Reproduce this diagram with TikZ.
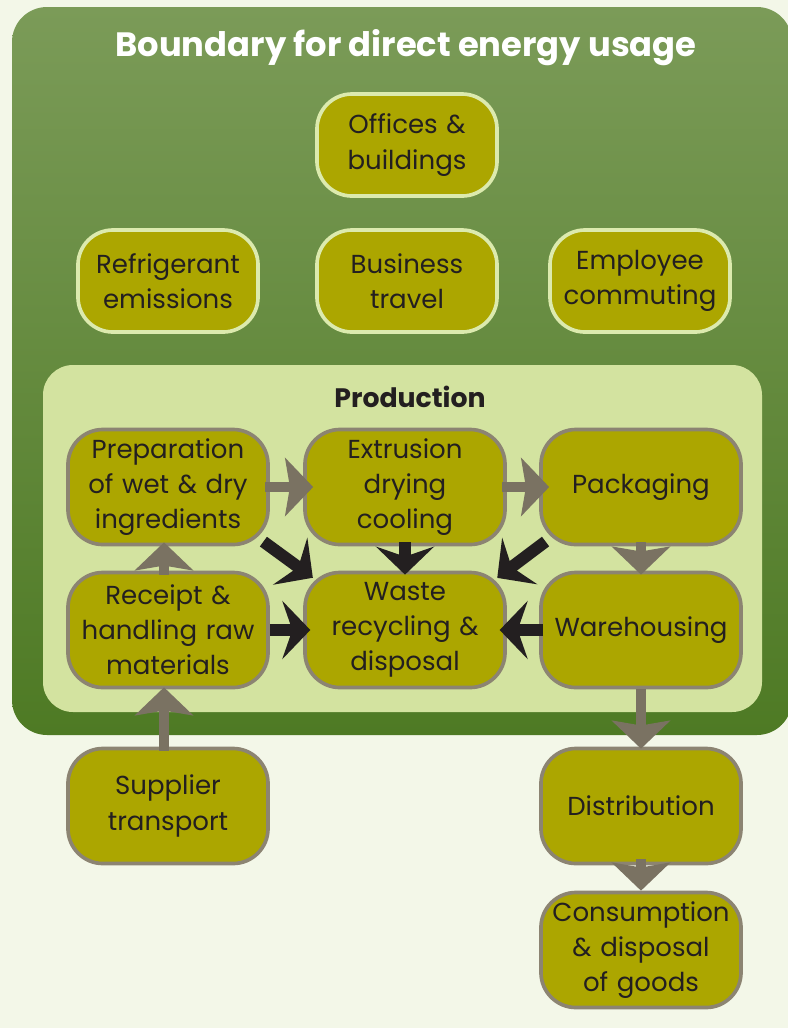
\documentclass[tikz,border=0pt]{standalone}
\usepackage{fontspec}
\setmainfont{Poppins}
\usetikzlibrary{arrows.meta}

\definecolor{bgcream}{HTML}{F3F7E8}
\definecolor{boundtop}{HTML}{7B9B58}
\definecolor{boundbot}{HTML}{4E7A24}
\definecolor{prodpanel}{HTML}{D3E3A0}
\definecolor{olivefill}{HTML}{ACA600}
\definecolor{stageline}{HTML}{8C8472}
\definecolor{topline}{HTML}{DCEAAE}
\definecolor{flowgray}{HTML}{7A7262}
\definecolor{inkdark}{HTML}{231F20}

\begin{document}
\begin{tikzpicture}[x=0.025cm, y=-0.025cm,
	every node/.style={font=\fontsize{18.5}{25}\selectfont, text=inkdark},
	stage/.style={draw=stageline, line width=2.6pt, fill=olivefill, rounded corners=0.875cm,
		minimum width=5cm, minimum height=2.875cm, text width=4.9cm, align=center, inner sep=0pt},
	topstage/.style={stage, draw=topline, minimum width=4.5cm, minimum height=2.55cm, text width=4.4cm},
	grayflow/.style={draw=flowgray, line width=0.27cm, -{Stealth[length=0.7cm, width=1.45cm, inset=0.12cm]}},
	blackflow/.style={draw=inkdark, line width=0.3cm, -{Stealth[length=0.7cm, width=1.45cm, inset=0.25cm]}}]
	
	% Page and margins
	\fill[bgcream] (0,0) rectangle (788,1028);
	\useasboundingbox (0,0) rectangle (788,1028);
	
	% --- BOUNDARY (outer box) ---
	\shade[top color=boundtop, bottom color=boundbot, rounded corners=0.875cm] (12,7) rectangle (792,735);
	\node[font=\fontsize{24}{28}\selectfont\bfseries, text=white] (title) at (406,48) {Boundary for direct energy usage};
	
	% Columns and rows
	\def\xl{168}
	\def\xm{405}
	\def\xr{641}
	\def\yp{487}
	\def\yq{630}
	
	% --- INDIRECT ITEMS ---
	\node[topstage] (offices) at (407,145) {Offices \&\\ buildings};
	\node[topstage] (refrig) at (\xl,281) {Refrigerant\\ emissions};
	\node[topstage] (travel) at (407,281) {Business\\ travel};
	\node[topstage] (commute) at (640,281) {Employee\\ commuting};
	
	% --- PRODUCTION PANEL ---
	\fill[prodpanel, rounded corners=0.75cm] (43,365) rectangle (762,712);
	\node[font=\fontsize{19}{24}\selectfont\bfseries] (prodtitle) at (410,397) {Production};
	
	\node[stage] (prep) at (\xl,\yp) {Preparation\\ of wet \& dry\\ ingredients};
	\node[stage] (extr) at (\xm,\yp) {Extrusion\\ drying\\ cooling};
	\node[stage] (pack) at (\xr,\yp) {Packaging};
	\node[stage] (receipt) at (\xl,\yq) {Receipt \&\\ handling raw\\ materials};
	\node[stage] (waste) at (\xm,\yq) {Waste\\ recycling \&\\ disposal};
	\node[stage] (ware) at (\xr,\yq) {Warehousing};
	
	% --- OUTSIDE THE BOUNDARY ---
	\node[stage] (supplier) at (\xl,806) {Supplier\\ transport};
	\node[stage] (distrib) at (\xr,806) {Distribution};
	\node[stage] (consume) at (\xr,950) {Consumption\\ \& disposal\\ of goods};
	
	% Main flow (gray)
	\draw[grayflow, shorten <=-0.12cm, shorten >=-0.25cm] (prep) -- (extr);
	\draw[grayflow, shorten <=-0.12cm, shorten >=-0.25cm] (extr) -- (pack);
	\draw[grayflow, shorten <=-0.1cm, shorten >=-0.1cm] (pack) -- (ware);
	\draw[grayflow, shorten <=-0.1cm, shorten >=-0.1cm] (receipt.north -| 164,0) -- (prep.south -| 164,0);
	\draw[grayflow, shorten >=-0.05cm] (ware) -- (distrib);
	\draw[grayflow, shorten <=-0.1cm, shorten >=-0.05cm] (supplier.north -| 164,0) -- (receipt.south -| 164,0);
	\draw[grayflow, shorten <=-0.15cm] (distrib) -- (consume);
	
	% Waste streams (black)
	\draw[blackflow, shorten <=-0.2cm, shorten >=-0.3cm] (prep.south east) -- (waste.north west);
	\draw[blackflow, shorten <=-0.1cm, shorten >=-0.1cm] (extr) -- (waste);
	\draw[blackflow, shorten <=-0.2cm, shorten >=-0.3cm] (pack.south west) -- (waste.north east);
	\draw[blackflow, shorten >=-0.18cm] (receipt) -- (waste);
	\draw[blackflow, shorten <=-0.1cm, shorten >=-0.18cm] (ware) -- (waste);
\end{tikzpicture}
\end{document}
